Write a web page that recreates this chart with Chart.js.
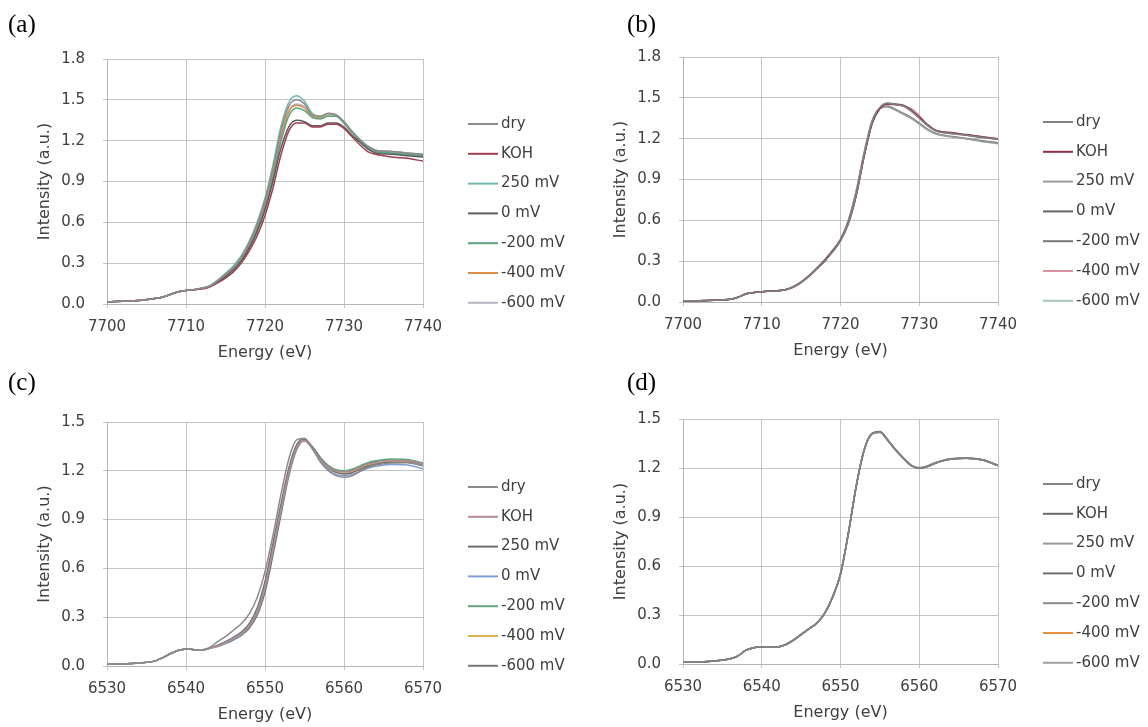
<!DOCTYPE html>
<html lang="en">
<head>
<meta charset="UTF-8">
<script src="https://cdn.jsdelivr.net/npm/chart.js"></script>
<style>
  body { margin: 0; background: #fff; }
  #page { position: relative; width: 1148px; height: 727px; overflow: hidden; background: #fff; }
  canvas { position: absolute; }
  .tag { position: absolute; font-family: "Liberation Serif", "Times New Roman", serif; font-size: 25px; line-height: 25px; color: #000; }
</style>
</head>
<body>
<div id="page">
  <canvas id="chartA" width="574" height="363" style="left:0;top:0"></canvas>
  <canvas id="chartB" width="574" height="363" style="left:574px;top:0"></canvas>
  <canvas id="chartC" width="574" height="364" style="left:0;top:363px"></canvas>
  <canvas id="chartD" width="574" height="364" style="left:574px;top:363px"></canvas>
  <div class="tag" style="left:8px;top:11px">(a)</div>
  <div class="tag" style="left:627px;top:11px">(b)</div>
  <div class="tag" style="left:8px;top:369px">(c)</div>
  <div class="tag" style="left:627px;top:369px">(d)</div>
</div>
<script>
// series names, same for every panel
const seriesNames = ['dry', 'KOH', '250 mV', '0 mV', '-200 mV', '-400 mV', '-600 mV'];

// energies (eV)
const energyCo = [7700, 7702, 7704, 7706, 7707, 7708, 7709, 7710, 7711, 7712, 7713, 7714, 7715, 7716, 7717, 7718, 7719, 7720, 7721, 7722, 7723, 7724, 7725, 7726, 7727, 7728, 7729, 7730, 7731, 7732, 7733, 7734, 7736, 7738, 7740];
const energyMn = [6530, 6532, 6534, 6536, 6537, 6538, 6539, 6540, 6541, 6542, 6543, 6544, 6545, 6546, 6547, 6548, 6549, 6550, 6551, 6552, 6553, 6554, 6555, 6556, 6557, 6558, 6559, 6560, 6561, 6562, 6563, 6564, 6566, 6568, 6570];

// panel (a)
const aDry  = [0.015, 0.02, 0.025, 0.04, 0.05, 0.07, 0.09, 0.10, 0.105, 0.115, 0.13, 0.17, 0.22, 0.27, 0.345, 0.45, 0.58, 0.76, 0.99, 1.27, 1.45, 1.50, 1.47, 1.39, 1.38, 1.40, 1.39, 1.34, 1.27, 1.21, 1.16, 1.13, 1.12, 1.11, 1.10];
const aKOH  = [0.015, 0.02, 0.025, 0.04, 0.05, 0.07, 0.09, 0.10, 0.105, 0.11, 0.125, 0.155, 0.19, 0.235, 0.30, 0.39, 0.50, 0.65, 0.85, 1.09, 1.27, 1.33, 1.33, 1.30, 1.30, 1.32, 1.32, 1.29, 1.23, 1.17, 1.12, 1.10, 1.08, 1.07, 1.05];
const a250  = [0.015, 0.02, 0.025, 0.04, 0.05, 0.07, 0.09, 0.10, 0.105, 0.115, 0.135, 0.175, 0.225, 0.28, 0.355, 0.46, 0.60, 0.78, 1.02, 1.30, 1.48, 1.53, 1.49, 1.40, 1.38, 1.40, 1.39, 1.34, 1.27, 1.21, 1.16, 1.13, 1.12, 1.11, 1.10];
const a0    = [0.015, 0.02, 0.025, 0.04, 0.05, 0.07, 0.09, 0.10, 0.105, 0.115, 0.13, 0.16, 0.20, 0.25, 0.315, 0.41, 0.53, 0.69, 0.90, 1.14, 1.30, 1.35, 1.34, 1.31, 1.31, 1.33, 1.33, 1.30, 1.24, 1.19, 1.14, 1.11, 1.10, 1.09, 1.08];
const aM200 = [0.015, 0.02, 0.025, 0.04, 0.05, 0.07, 0.09, 0.10, 0.105, 0.115, 0.13, 0.16, 0.205, 0.255, 0.325, 0.42, 0.55, 0.71, 0.93, 1.19, 1.38, 1.44, 1.42, 1.37, 1.36, 1.38, 1.38, 1.33, 1.26, 1.20, 1.15, 1.12, 1.11, 1.10, 1.09];
const aM400 = [0.015, 0.02, 0.025, 0.04, 0.05, 0.07, 0.09, 0.10, 0.105, 0.115, 0.13, 0.165, 0.21, 0.26, 0.33, 0.43, 0.56, 0.73, 0.95, 1.22, 1.41, 1.46, 1.44, 1.38, 1.37, 1.40, 1.39, 1.33, 1.26, 1.20, 1.15, 1.12, 1.11, 1.10, 1.09];
const aM600 = [0.015, 0.02, 0.025, 0.04, 0.05, 0.07, 0.09, 0.10, 0.105, 0.115, 0.13, 0.165, 0.21, 0.26, 0.335, 0.44, 0.57, 0.74, 0.97, 1.24, 1.42, 1.47, 1.45, 1.38, 1.37, 1.39, 1.38, 1.33, 1.26, 1.20, 1.16, 1.13, 1.12, 1.11, 1.09];

// panel (b)
const bDry  = [0.010, 0.010, 0.012, 0.020, 0.035, 0.060, 0.070, 0.075, 0.080, 0.082, 0.090, 0.110, 0.145, 0.190, 0.245, 0.300, 0.370, 0.450, 0.580, 0.790, 1.080, 1.320, 1.430, 1.460, 1.450, 1.440, 1.400, 1.350, 1.300, 1.260, 1.245, 1.240, 1.225, 1.210, 1.195];
const bKOH  = [0.010, 0.010, 0.012, 0.020, 0.035, 0.060, 0.070, 0.075, 0.080, 0.082, 0.090, 0.110, 0.145, 0.190, 0.245, 0.305, 0.375, 0.455, 0.585, 0.790, 1.070, 1.310, 1.420, 1.455, 1.450, 1.440, 1.405, 1.360, 1.305, 1.265, 1.250, 1.245, 1.230, 1.215, 1.200];
const b250  = [0.010, 0.010, 0.012, 0.020, 0.035, 0.060, 0.070, 0.075, 0.080, 0.082, 0.090, 0.112, 0.148, 0.195, 0.250, 0.310, 0.380, 0.460, 0.600, 0.820, 1.100, 1.330, 1.425, 1.435, 1.410, 1.380, 1.350, 1.310, 1.270, 1.240, 1.225, 1.215, 1.200, 1.180, 1.165];
const b0    = [0.010, 0.010, 0.012, 0.020, 0.035, 0.060, 0.070, 0.075, 0.080, 0.082, 0.090, 0.110, 0.145, 0.190, 0.245, 0.300, 0.370, 0.450, 0.575, 0.780, 1.070, 1.310, 1.425, 1.460, 1.455, 1.445, 1.410, 1.355, 1.300, 1.260, 1.245, 1.238, 1.225, 1.208, 1.195];
const bM200 = [0.010, 0.010, 0.012, 0.020, 0.035, 0.060, 0.070, 0.075, 0.080, 0.082, 0.090, 0.112, 0.148, 0.195, 0.250, 0.310, 0.378, 0.458, 0.595, 0.810, 1.090, 1.325, 1.425, 1.440, 1.415, 1.385, 1.355, 1.315, 1.272, 1.240, 1.225, 1.218, 1.202, 1.185, 1.170];
const bM400 = [0.010, 0.010, 0.012, 0.020, 0.035, 0.060, 0.070, 0.075, 0.080, 0.082, 0.090, 0.110, 0.145, 0.190, 0.245, 0.300, 0.370, 0.450, 0.580, 0.785, 1.075, 1.315, 1.428, 1.458, 1.452, 1.442, 1.420, 1.370, 1.305, 1.262, 1.248, 1.240, 1.228, 1.212, 1.198];
const bM600 = [0.010, 0.010, 0.012, 0.020, 0.035, 0.060, 0.070, 0.075, 0.080, 0.082, 0.090, 0.112, 0.148, 0.195, 0.250, 0.310, 0.380, 0.460, 0.598, 0.815, 1.095, 1.328, 1.422, 1.432, 1.408, 1.378, 1.348, 1.305, 1.265, 1.235, 1.222, 1.214, 1.198, 1.178, 1.163];

// panel (c)
const cDry  = [0.010, 0.012, 0.018, 0.030, 0.050, 0.075, 0.095, 0.105, 0.100, 0.100, 0.115, 0.150, 0.180, 0.220, 0.260, 0.320, 0.420, 0.580, 0.800, 1.050, 1.270, 1.390, 1.400, 1.335, 1.255, 1.200, 1.170, 1.160, 1.170, 1.195, 1.220, 1.235, 1.248, 1.250, 1.230];
const cKOH  = [0.010, 0.012, 0.018, 0.030, 0.050, 0.075, 0.095, 0.105, 0.100, 0.098, 0.110, 0.125, 0.145, 0.170, 0.200, 0.248, 0.335, 0.490, 0.720, 0.960, 1.190, 1.345, 1.385, 1.340, 1.270, 1.222, 1.198, 1.192, 1.200, 1.220, 1.240, 1.250, 1.262, 1.262, 1.240];
const c250  = [0.010, 0.012, 0.018, 0.030, 0.050, 0.075, 0.095, 0.105, 0.100, 0.098, 0.110, 0.128, 0.150, 0.176, 0.208, 0.260, 0.355, 0.520, 0.750, 0.990, 1.215, 1.360, 1.395, 1.345, 1.272, 1.220, 1.190, 1.180, 1.188, 1.208, 1.228, 1.240, 1.252, 1.252, 1.232];
const c0    = [0.010, 0.012, 0.018, 0.030, 0.050, 0.075, 0.095, 0.105, 0.100, 0.098, 0.110, 0.124, 0.142, 0.166, 0.196, 0.245, 0.335, 0.495, 0.725, 0.965, 1.195, 1.345, 1.385, 1.335, 1.262, 1.208, 1.178, 1.170, 1.178, 1.196, 1.215, 1.228, 1.238, 1.236, 1.212];
const cM200 = [0.010, 0.012, 0.018, 0.030, 0.050, 0.075, 0.095, 0.105, 0.100, 0.098, 0.110, 0.124, 0.142, 0.166, 0.196, 0.244, 0.330, 0.485, 0.715, 0.955, 1.185, 1.340, 1.385, 1.345, 1.280, 1.232, 1.205, 1.200, 1.210, 1.230, 1.250, 1.262, 1.272, 1.270, 1.248];
const cM400 = [0.010, 0.012, 0.018, 0.030, 0.050, 0.075, 0.095, 0.105, 0.100, 0.098, 0.110, 0.124, 0.143, 0.168, 0.198, 0.246, 0.332, 0.488, 0.718, 0.958, 1.188, 1.342, 1.386, 1.340, 1.272, 1.220, 1.192, 1.186, 1.195, 1.215, 1.236, 1.248, 1.260, 1.258, 1.236];
const cM600 = [0.010, 0.012, 0.018, 0.030, 0.050, 0.075, 0.095, 0.105, 0.100, 0.098, 0.108, 0.120, 0.138, 0.160, 0.188, 0.232, 0.310, 0.455, 0.680, 0.925, 1.165, 1.330, 1.385, 1.348, 1.282, 1.232, 1.205, 1.198, 1.205, 1.225, 1.245, 1.255, 1.265, 1.265, 1.245];

// panel (d)
const dDry  = [0.010, 0.012, 0.018, 0.032, 0.050, 0.085, 0.100, 0.105, 0.102, 0.104, 0.118, 0.145, 0.180, 0.215, 0.250, 0.310, 0.410, 0.550, 0.800, 1.090, 1.310, 1.410, 1.420, 1.370, 1.310, 1.260, 1.215, 1.200, 1.210, 1.230, 1.245, 1.255, 1.260, 1.250, 1.215];
const dKOH  = [0.010, 0.012, 0.018, 0.032, 0.050, 0.085, 0.100, 0.105, 0.102, 0.104, 0.118, 0.146, 0.181, 0.216, 0.252, 0.312, 0.412, 0.552, 0.802, 1.088, 1.308, 1.412, 1.424, 1.372, 1.312, 1.260, 1.214, 1.198, 1.208, 1.228, 1.244, 1.254, 1.260, 1.250, 1.216];
const d250  = [0.010, 0.012, 0.018, 0.032, 0.050, 0.085, 0.100, 0.105, 0.102, 0.104, 0.118, 0.145, 0.180, 0.214, 0.250, 0.309, 0.408, 0.548, 0.798, 1.092, 1.312, 1.408, 1.418, 1.368, 1.308, 1.258, 1.216, 1.202, 1.212, 1.232, 1.246, 1.256, 1.261, 1.251, 1.214];
const d0    = [0.010, 0.012, 0.018, 0.032, 0.050, 0.085, 0.100, 0.105, 0.102, 0.104, 0.118, 0.145, 0.180, 0.215, 0.251, 0.311, 0.411, 0.552, 0.801, 1.089, 1.309, 1.411, 1.422, 1.371, 1.310, 1.259, 1.215, 1.199, 1.209, 1.229, 1.245, 1.255, 1.260, 1.249, 1.215];
const dM200 = [0.010, 0.012, 0.018, 0.032, 0.050, 0.085, 0.100, 0.105, 0.102, 0.104, 0.118, 0.145, 0.179, 0.215, 0.250, 0.310, 0.409, 0.549, 0.799, 1.091, 1.311, 1.409, 1.419, 1.369, 1.311, 1.261, 1.216, 1.201, 1.211, 1.231, 1.246, 1.256, 1.261, 1.250, 1.216];
const dM400 = [0.010, 0.012, 0.018, 0.032, 0.050, 0.085, 0.100, 0.105, 0.102, 0.104, 0.118, 0.145, 0.180, 0.215, 0.250, 0.310, 0.410, 0.550, 0.800, 1.090, 1.310, 1.410, 1.420, 1.370, 1.310, 1.260, 1.215, 1.200, 1.210, 1.230, 1.245, 1.255, 1.260, 1.250, 1.215];
const dM600 = [0.010, 0.012, 0.018, 0.032, 0.050, 0.085, 0.100, 0.105, 0.102, 0.104, 0.118, 0.146, 0.181, 0.216, 0.251, 0.311, 0.411, 0.551, 0.801, 1.091, 1.311, 1.411, 1.421, 1.371, 1.311, 1.261, 1.215, 1.200, 1.210, 1.230, 1.245, 1.255, 1.260, 1.250, 1.215];

const colorsA = ['#8c8c8c', '#a33c50', '#6fb8ae', '#5c5c5c', '#5aa37f', '#e08b45', '#b5b5c8'];
const colorsB = ['#808080', '#8e2f46', '#9a9a9a', '#666666', '#777777', '#d9909f', '#a8c4bd'];
const colorsC = ['#8a8a8a', '#b88894', '#6e6e6e', '#7d9fd6', '#5fa67e', '#d8b24a', '#777777'];
const colorsD = ['#858585', '#6a6a6a', '#9a9a9a', '#707070', '#8a8a8a', '#e8913a', '#a0a0a0'];

Chart.defaults.font.family = '"DejaVu Sans", Verdana, sans-serif';
Chart.defaults.color = '#404040';

// legend drawn to the right of the plot, Excel style
const sideLegend = {
    id: 'sideLegend',
    afterDraw(chart) {
        const ctx = chart.ctx;
        const area = chart.chartArea;
        ctx.save();
        ctx.font = '15px "DejaVu Sans", Verdana, sans-serif';
        ctx.textBaseline = 'middle';
        chart.data.datasets.forEach((ds, i) => {
            const y = area.top + 65 + i * 29.8;
            ctx.strokeStyle = ds.borderColor;
            ctx.lineWidth = 2;
            ctx.beginPath();
            ctx.moveTo(area.right + 45, y);
            ctx.lineTo(area.right + 75, y);
            ctx.stroke();
            ctx.fillStyle = '#404040';
            ctx.fillText(ds.label, area.right + 78, y);
        });
        ctx.restore();
    }
};

function makePanel(id, energy, series, colors, xMin, xMax, yMax, pad) {
    const datasets = series.map((vals, i) => ({
        label: seriesNames[i],
        data: energy.map((e, j) => ({ x: e, y: vals[j] })),
        borderColor: colors[i],
        backgroundColor: colors[i],
        borderWidth: 1.5,
        pointRadius: 0,
        fill: false,
        cubicInterpolationMode: 'monotone'
    }));

    new Chart(document.getElementById(id), {
        type: 'line',
        data: { datasets: datasets },
        options: {
            responsive: false,
            animation: false,
            devicePixelRatio: 1,
            layout: { padding: pad },
            plugins: { legend: { display: false }, tooltip: { enabled: false } },
            scales: {
                x: {
                    type: 'linear',
                    min: xMin,
                    max: xMax,
                    afterFit: (s) => { s.height = 58; },
                    ticks: { stepSize: 10, padding: 10, maxRotation: 0, font: { size: 15 }, callback: (v) => String(v) },
                    grid: { color: '#c4c4c4', tickLength: 4 },
                    border: { color: '#b4b4b4' },
                    title: { display: true, text: 'Energy (eV)', font: { size: 16 }, padding: { top: 0, bottom: 0 } }
                },
                y: {
                    min: 0,
                    max: yMax,
                    afterFit: (s) => { s.width = 72; },
                    ticks: { stepSize: 0.3, padding: 18, font: { size: 15 }, callback: (v) => v.toFixed(1) },
                    grid: { color: '#c4c4c4', tickLength: 4 },
                    border: { color: '#b4b4b4' },
                    title: { display: true, text: 'Intensity (a.u.)', font: { size: 16 }, padding: 0 }
                }
            }
        },
        plugins: [sideLegend]
    });
}

makePanel('chartA', energyCo, [aDry, aKOH, a250, a0, aM200, aM400, aM600], colorsA, 7700, 7740, 1.8,
    { left: 35, top: 59, right: 151, bottom: 1 });
makePanel('chartB', energyCo, [bDry, bKOH, b250, b0, bM200, bM400, bM600], colorsB, 7700, 7740, 1.8,
    { left: 37, top: 57, right: 150, bottom: 3 });
makePanel('chartC', energyMn, [cDry, cKOH, c250, c0, cM200, cM400, cM600], colorsC, 6530, 6570, 1.5,
    { left: 35, top: 59, right: 151, bottom: 3 });
makePanel('chartD', energyMn, [dDry, dKOH, d250, d0, dM200, dM400, dM600], colorsD, 6530, 6570, 1.5,
    { left: 37, top: 56, right: 150, bottom: 5 });
</script>
</body>
</html>
